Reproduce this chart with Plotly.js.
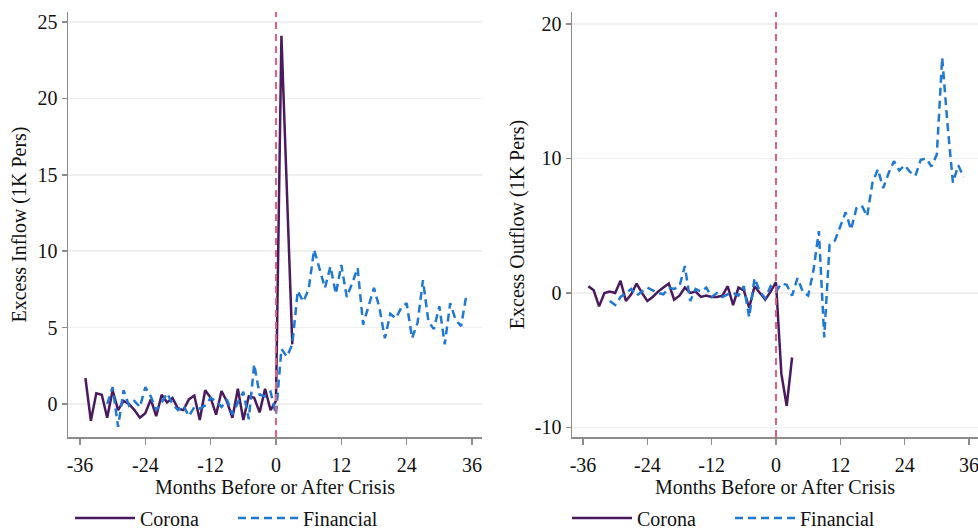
<!DOCTYPE html>
<html>
<head>
<meta charset="utf-8">
<script src="https://cdn.plot.ly/plotly-3.0.1.min.js"></script>
<style>html,body{margin:0;padding:0;background:#fff;}#chart{width:978px;height:530px;}</style>
</head>
<body>
<div id="chart"></div>
<script>
// Months
const coronaMonths = [];
for (let m = -35; m <= 3; m++) coronaMonths.push(m);
const financialMonths = [];
for (let m = -31; m <= 35; m++) financialMonths.push(m);

// Left panel: Excess Inflow (1K Pers)
const inflowCorona = [1.7, -1.1, 0.7, 0.6, -0.9, 0.9, -0.4, 0.2, 0.0, -0.4,
  -0.9, -0.6, 0.3, -0.8, 0.6, 0.1, 0.4, -0.3, -0.4, 0.3,
  0.55, -1.05, 0.9, 0.4, -0.7, 0.85, 0.15, -0.9, 1.0, -1.05,
  0.5, 0.4, -0.55, 1.0, -0.4, 0.2, 24.1, 14.0, 3.9];
const inflowFinancial = [0.0, 1.1, -1.5, 0.9, -0.1, 0.2, -0.2, 1.1, 0.5, -0.4,
  0.1, 0.7, 0.0, -0.4, -0.1, -0.8, -0.2, -0.3, -0.1, 0.4,
  0.2, -0.2, 0.3, -0.7, 0.1, 0.8, -1.0, 2.6, 0.6, 0.5,
  0.8, -0.7,
  3.6, 3.1, 3.9, 7.4, 6.7, 7.5, 10.1, 8.8, 7.6, 9.0,
  7.2, 9.1, 7.0, 7.9, 8.9, 5.2, 6.4, 7.6, 6.3, 4.3,
  5.9, 5.6, 6.3, 6.6, 4.3, 5.3, 8.1, 5.4, 4.9, 6.4,
  3.9, 6.6, 5.5, 5.1, 7.2];

// Right panel: Excess Outflow (1K Pers)
const outflowCorona = [0.5, 0.2, -1.0, 0.0, 0.1, 0.0, 0.9, -0.6, -0.1, 0.7,
  0.0, -0.6, -0.3, 0.1, 0.4, 0.7, -0.5, -0.2, 0.4, 0.0,
  0.1, -0.3, -0.2, -0.3, -0.3, -0.2, 0.5, -0.9, 0.4, 0.2,
  -1.1, 0.5, 0.0, -0.5, 0.1, 0.8, -6.0, -8.4, -4.8];
const outflowFinancial = [-0.6, -0.9, -0.3, 0.0, 0.3, -0.2, 0.1, 0.4, 0.2, 0.0,
  -0.1, 0.4, 0.3, 0.5, 2.0, -0.6, 0.3, 0.1, 0.4, -0.3,
  0.0, -0.3, -0.1, 0.0, -0.2, 0.5, -1.8, 1.1, 0.1, -0.4,
  0.5, 0.1,
  0.7, 0.6, -0.2, 1.1, 0.1, -0.2, 1.7, 4.6, -3.3, 3.6,
  3.9, 4.9, 6.0, 4.7, 6.3, 6.5, 5.7, 8.2, 9.2, 7.8,
  8.9, 9.8, 9.1, 9.5, 9.0, 8.7, 9.9, 10.0, 9.4, 10.3,
  17.5, 12.5, 8.2, 9.5, 8.6];

const xTicks = [-36, -24, -12, 0, 12, 24, 36];
const leftYTicks = [0, 5, 10, 15, 20, 25];
const rightYTicks = [-10, 0, 10, 20];

const purple = '#4a1a5e';
const blue = '#1f78d4';
const serif = 'Liberation Serif, Times New Roman, serif';

const traces = [
  {x: coronaMonths, y: inflowCorona, type: 'scatter', mode: 'lines', name: 'Corona',
   line: {color: purple, width: 2.5}, xaxis: 'x', yaxis: 'y', legend: 'legend'},
  {x: financialMonths, y: inflowFinancial, type: 'scatter', mode: 'lines', name: 'Financial',
   line: {color: blue, width: 2.5, dash: '8px,5px'}, xaxis: 'x', yaxis: 'y', legend: 'legend'},
  {x: coronaMonths, y: outflowCorona, type: 'scatter', mode: 'lines', name: 'Corona',
   line: {color: purple, width: 2.5}, xaxis: 'x2', yaxis: 'y2', legend: 'legend2'},
  {x: financialMonths, y: outflowFinancial, type: 'scatter', mode: 'lines', name: 'Financial',
   line: {color: blue, width: 2.5, dash: '8px,5px'}, xaxis: 'x2', yaxis: 'y2', legend: 'legend2'}
];

const W = 978, H = 530;
const MB = 60;            // bottom margin reserved for the legends
const PH = H - MB;        // plot-area height
const yDom = [(PH - 437) / PH, (PH - 12) / PH];

function xAxis(domain, range, anchor) {
  return {
    domain: domain, range: range, anchor: anchor,
    tickvals: xTicks, ticktext: xTicks.map(String),
    ticks: 'outside', ticklen: 6, tickwidth: 1.5, tickcolor: '#8c8c8c',
    showline: true, linecolor: '#8c8c8c', linewidth: 1.5,
    showgrid: false, zeroline: false,
    ticklabelstandoff: 3, ticklabeloverflow: 'allow',
    tickfont: {family: serif, size: 20, color: '#111'},
    title: {text: 'Months Before or After Crisis', font: {family: serif, size: 20, color: '#111'}, standoff: 0}
  };
}
function yAxis(domain, range, anchor, ticks, title) {
  return {
    domain: domain, range: range, anchor: anchor,
    tickvals: ticks, ticktext: ticks.map(String),
    ticks: 'outside', ticklen: 5, tickwidth: 1.5, tickcolor: '#8c8c8c',
    showline: true, linecolor: '#8c8c8c', linewidth: 1.5,
    showgrid: true, gridcolor: '#efefef', gridwidth: 1.5, zeroline: false,
    tickfont: {family: serif, size: 20, color: '#111'},
    title: {text: title, font: {family: serif, size: 20, color: '#111'}, standoff: 5}
  };
}

const legendBase = {orientation: 'h', xanchor: 'left', yanchor: 'middle', yref: 'container', y: 12 / H,
  font: {family: serif, size: 20, color: '#111'}, entrywidth: 88, entrywidthmode: 'pixels',
  itemwidth: 60, bgcolor: 'rgba(0,0,0,0)'};

const layout = {
  width: W, height: H,
  margin: {l: 0, r: 0, t: 0, b: MB},
  paper_bgcolor: '#fff', plot_bgcolor: '#fff',
  showlegend: true,
  xaxis: xAxis([68 / W, 482 / W], [-38.2, 37.84], 'y'),
  yaxis: yAxis(yDom, [-2.16, 25.65], 'x', leftYTicks, 'Excess Inflow (1K Pers)'),
  xaxis2: xAxis([572 / W, 1], [-38.05, 37.68], 'y2'),
  yaxis2: yAxis(yDom, [-10.71, 20.89], 'x2', rightYTicks, 'Excess Outflow (1K Pers)'),
  shapes: [
    {type: 'line', xref: 'x', yref: 'y domain', x0: 0, x1: 0, y0: 0, y1: 1,
     line: {color: '#e0607e', width: 2, dash: '7px,5px'}},
    {type: 'line', xref: 'x2', yref: 'y2 domain', x0: 0, x1: 0, y0: 0, y1: 1,
     line: {color: '#e0607e', width: 2, dash: '7px,5px'}}
  ],
  legend: Object.assign({}, legendBase, {x: 70 / W}),
  legend2: Object.assign({}, legendBase, {x: 567 / W})
};

Plotly.newPlot('chart', traces, layout, {displayModeBar: false, staticPlot: true});
</script>
</body>
</html>
